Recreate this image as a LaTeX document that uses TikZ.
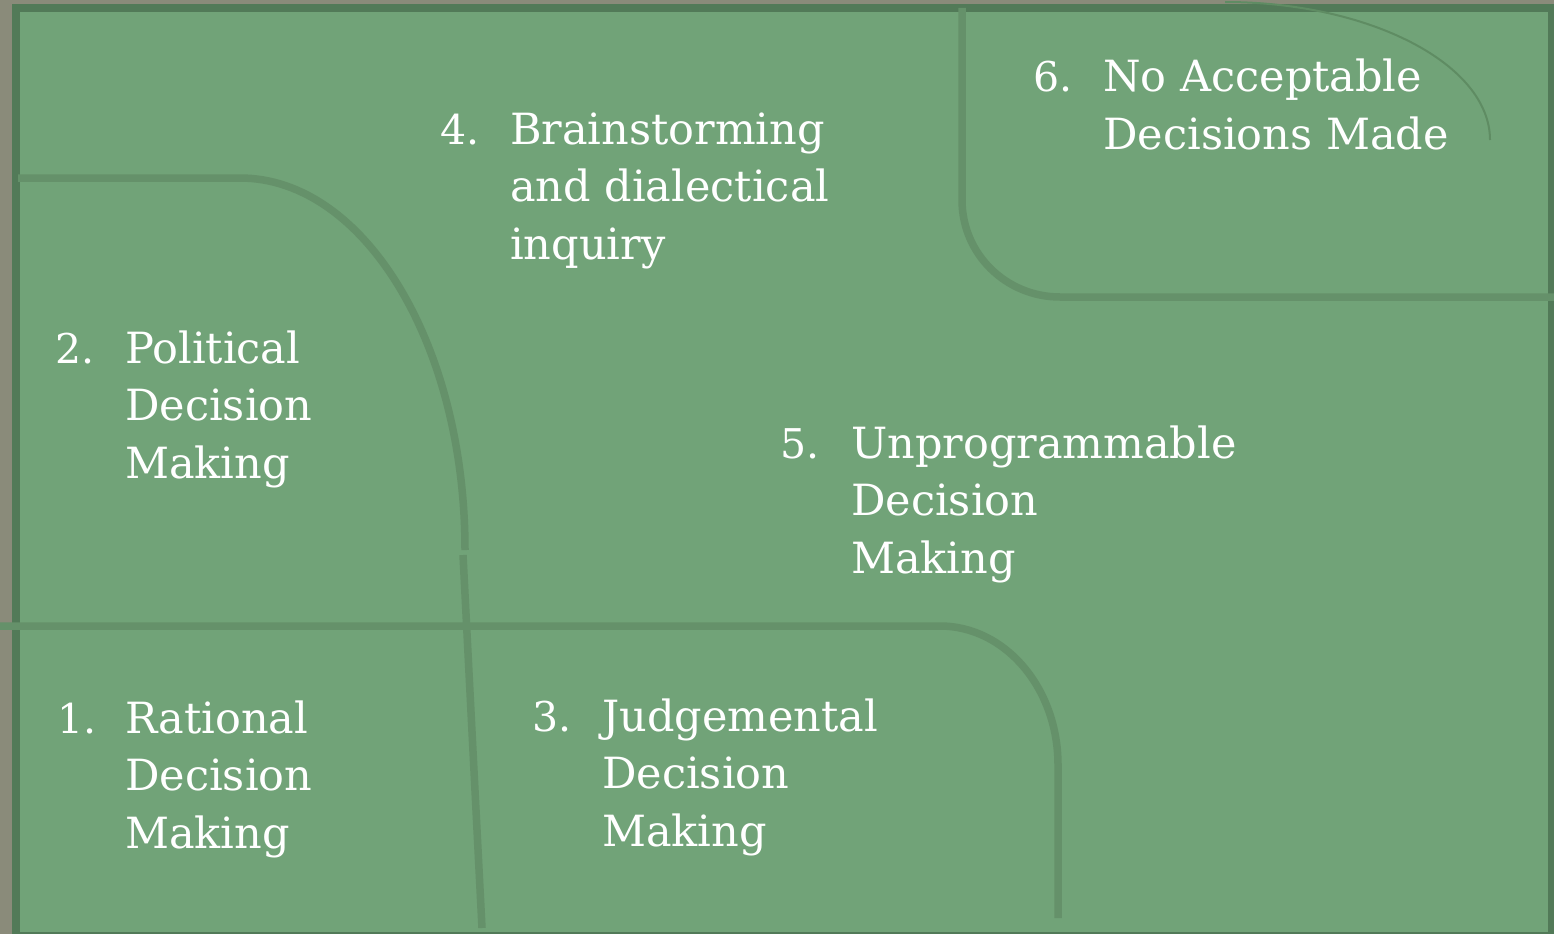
\documentclass[tikz,border=0pt]{standalone}
\usepackage{fontspec}
\setmainfont{DejaVu Serif}
\usepackage{tikz}

\definecolor{frame}{HTML}{8A8B7A}
\definecolor{edge}{HTML}{527A58}
\definecolor{field}{HTML}{71A378}
\definecolor{divider}{HTML}{65916A}
\definecolor{arcline}{HTML}{5F8C63}

\begin{document}
\begin{tikzpicture}[x=1pt, y=-1pt,
    every node/.style={inner sep=0pt, text=white},
    num/.style={anchor=base west, font=\fontsize{41}{57}\selectfont},
    item/.style={anchor=base west, align=left, font=\fontsize{43}{57.5}\selectfont},
    split/.style={draw=divider, line width=7.5pt},
    thin/.style={draw=arcline, line width=2pt}]

  % canvas and frame
  \fill[frame] (0,0) rectangle (1554,934);
  \fill[edge] (12,4) rectangle (1554,934);
  \fill[field] (20,12) rectangle (1548,932);
  \useasboundingbox (0,0) rectangle (1554,934);

  % dividing curves
  \draw[split] (18,178) -- (240,178) .. controls (364,178) and (465,344) .. (465,550);
  \draw[split] (463,555) -- (482,928);
  \draw[split] (0,626) -- (940,626) .. controls (1005,626) and (1058,688) .. (1058,765) -- (1058,918);
  \draw[split] (962,8) -- (962,200) .. controls (962,254) and (1006,297) .. (1060,297) -- (1554,297);
  \draw[thin] (1225,2) .. controls (1369,2) and (1490,64) .. (1490,140);

  % numbers sit on the first line, texts on their last line
  % 1. rational
  \node[num] (n1) at (57,733) {1.};
  \node[item] (t1) at (125,848) {Rational\\Decision\\Making};
  % 2. political
  \node[num] (n2) at (55,363) {2.};
  \node[item] (t2) at (125,478) {Political\\Decision\\Making};
  % 3. judgemental
  \node[num] (n3) at (532,731) {3.};
  \node[item] (t3) at (602,846) {Judgemental\\Decision\\Making};
  % 4. brainstorming
  \node[num] (n4) at (440,144) {4.};
  \node[item] (t4) at (510,259) {Brainstorming\\and dialectical\\inquiry};
  % 5. unprogrammable
  \node[num] (n5) at (780,458) {5.};
  \node[item] (t5) at (851,573) {Unprogrammable\\Decision\\Making};
  % 6. no acceptable
  \node[num] (n6) at (1033,91) {6.};
  \node[item] (t6) at (1103,149) {No Acceptable\\Decisions Made};

\end{tikzpicture}
\end{document}
